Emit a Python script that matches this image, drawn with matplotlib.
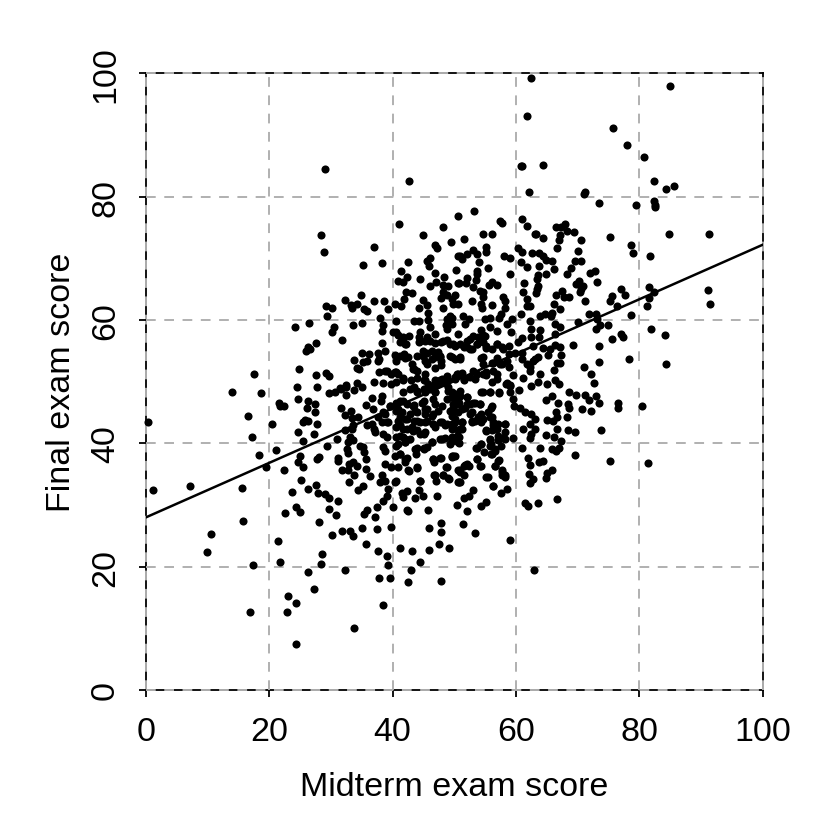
import matplotlib
matplotlib.use("Agg")
import matplotlib.pyplot as plt

# scores, (midterm, final)
points = [
    (29.1,84.5),(42.6,82.6),(41.1,75.5),(28.4,73.8),(28.8,71.1),(36.9,71.8),(35.2,68.9),(38.3,69.2),
    (48.1,75),(44.9,73.7),(50.6,76.9),(46.9,72.2),(47.2,71.6),(49.4,72.6),(50.6,70.3),(46.1,70),(45.5,69.5),(45.9,68.7),
    (42.5,69.4),(41.4,68),(42.3,66.9),(40.9,66.3),(41.7,66.1),(44.4,66.7),(46.8,67.6),(50.3,68.1),(48.4,67),(47.1,66.2),(46.1,65.5),
    (50.6,66),(48.2,65.6),(49,65.5),(42.1,64.6),(43.2,64.4),(34.8,64.1),(32.2,63.2),(37,63),(38.6,63),(44.9,63.2),(41.8,63.4),
    (48.2,64.5),(47.9,63.5),(48.8,64.1),(49.6,63.4),(50.1,64),(49.8,62.6),(50.6,62.6),(33.2,62.4),(34.2,62.6),(33.4,61.9),
    (29.2,62.3),(30.1,62),(35.4,61.8),(35.9,61.5),(39.2,61.8),(40.4,62.6),(41.3,62.3),(45.6,62.5),(44.3,62),(48.1,62),(45.8,61.1),
    (29.4,60.6),(37.9,60.3),(40.6,59.9),(43.5,59.9),(44.2,59.8),(45.8,60),(49.3,60.7),(49.7,60.4),(48.8,60.2),(49.7,59.4),(48.6,59.2),(48.8,58.5),
    (24.2,58.9),(26.5,59.5),(33.5,59.2),(35,59.5),(30.5,58.9),(30.1,58),(38.5,59.2),(38.3,58.2),(46,58.9),(31.8,56.8),(27.6,56.3),
    (26.2,55.6),(26.6,55.3),(25.9,54.9),(40.1,58),(40.9,57.6),(41.7,57.2),(42.7,57.4),(41.2,56.4),(42.2,56.1),(44.4,58.1),(44.2,57.2),
    (45.5,57.2),(46.8,57.7),(44.2,56.4),(45.2,56.6),(46.9,56.3),(47.9,56.4),(48.8,56.8),(49.3,56.1),(50.6,57.7),(50.1,55.8),(50.9,56.1),
    (38.2,56.2),(38.8,55),(37.7,54.7),(37.8,53.7),(37.7,53.4),(35.1,54.7),(36.1,54.5),(33.8,53.5),(35.2,53.2),(35.8,53.4),
    (40.4,54.3),(41.2,54.2),(41.9,54.5),(42,53.9),(40.6,53.4),(43.9,54.1),(44.9,55),(45.5,54.6),(44.9,54.2),(45.2,53.4),(46.3,54.9),
    (46.9,54),(47.4,54.8),(47.9,53.4),(47.7,54.2),(49.3,54.2),(50.1,53.7),(50.9,54),(43.1,52.9),(47.9,52.7),(43.4,52),(44,51.8),(46.9,52.2),
    (34.2,52.2),(34.5,52),(17.5,51.3),(24.8,52.1),(27.6,51.1),(29.2,51.4),(29.6,50.9),(37.8,51.5),(38.8,51.8),(39.7,51.2),(40.5,51.6),(40.9,51.2),
    (45.2,51.2),(41.7,50.6),(43,50.3),(43.9,50.6),(48.8,50.9),(50.1,50.5),(50.6,51.2),(34.2,49.8),(35.1,49.2),(37,49.9),(38.5,49.8),(39.7,49.6),(40.6,49.9),
    (45,50.2),(45.8,49.6),(47.7,50.3),(48.5,49.8),(46.9,49.6),(24.5,49.2),(27.7,49.1),(32.5,49.4),(31.5,49),
    (62.5,99.3),(84.9,98),(61.8,93.1),(75.7,91.1),(78,88.3),(80.7,86.4),(60.8,85),(61,85),(64.4,85.2),(82.4,82.5),(84.4,81.2),(85.6,81.7),
    (62.1,80.7),(71.2,80.7),(71.1,80.4),(73.4,78.9),(79.5,78.6),(82.4,79.3),(82.5,78.7),(82.5,78.3),(53.2,77.6),(57.4,76.1),(57.7,75.8),
    (60.9,76.3),(61.8,75.2),(63.1,74),(63.2,73.9),(64.4,73.3),(66.5,75),(67.3,75),(67.9,75.6),(68.2,74.5),(69.4,74.2),(67.2,73.8),(66.9,72.9),
    (70.5,72.9),(66.7,71.7),(70.1,71.2),(54.7,73.9),(56.1,73.9),(51.6,73.2),(75.3,73.4),(84.8,73.9),(91.3,74),(78.6,72.2),(78.9,70.9),(81.7,70.3),
    (55.2,71.8),(55.2,71.1),(53,71.3),(52.1,70.7),(50.9,70.4),(51.2,69.9),(53.6,70.7),(60.4,71.7),(60.9,71),(62.6,70.9),(63.8,70.8),(64.3,70.3),(64.9,69.7),(65.9,69.5),
    (58.1,70.4),(59,70.1),(69.6,69.6),(70.6,69.6),(54,69.4),(60.8,69.4),(61.7,68.6),(63.7,68.8),(66.1,68.3),(55.5,68.5),(53.7,68),(53.6,67.4),(59,67.4),
    (68.9,68.4),(68.2,67.5),(72.8,68),(72,67.6),(64.8,67.4),(63.5,67.3),(63.4,66.6),(52,66.8),(51.9,66),(50.8,66),(53.5,66.5),(61.3,66),(56.1,66.2),(55.6,65.6),(56.9,65.7),
    (73.2,66.1),(70.2,66.4),(69.8,65.8),(70.9,65.5),(70.5,65),(70.4,64.5),(53,65.3),(54.2,64.7),(54.7,64.5),(63.6,65.5),(63.4,65),(63.2,64.4),(61.1,64.6),
    (81.6,65.3),(82.4,64.6),(77,65),(77.7,64.1),(91.2,64.9),(91.4,62.6),(67.4,64.7),(66.5,64),(67.7,63.8),(68.6,63.7),(75.6,63.9),(75.2,63.1),(81.6,63.6),(81.2,62.3),
    (71.2,63.1),(52.9,63.1),(54.7,63.7),(54.4,62.6),(54.5,62),(56.1,62.4),(57.9,63.8),(58.2,63.1),(58.2,61.9),(61.8,63.4),(61.7,62.3),(62.3,62.2),(66.2,62.6),(67.1,61.7),
    (76.3,62.2),(57.5,61),(57.3,60.4),(51.4,60.7),(52.3,60.1),(60.8,60.9),(63.9,60.7),(64.7,61),(65.7,60.7),(65.9,61.2),(71.8,60.9),(72.9,61),(73.2,60.2),(78.7,60.8),
    (55,60.1),(55.8,60.3),(59.3,60.2),(62.2,59.8),(70.1,59.6),(51.7,59.4),(58.5,59.3),(66.4,59.3),(67.1,58.8),(73.6,59.2),(73,58.5),(74.9,59.2),(55.8,58.8),(54.3,58.4),(55,57.4),
    (56.9,58.2),(59.2,58.1),(62.5,58.6),(63.9,58.4),(62.4,57.3),(63.8,57.2),(81.9,58.5),(84.1,57.5),(77.1,57.7),(77.3,57.2),(75.6,56.9),(66.3,57.7),(53.1,57.4),(52.5,56.9),(53.9,57.2),
    (60.9,57),(60.4,56.4),(69.2,55.9),(73.5,55.7),(52,55.6),(52.8,55.3),(53.6,56.1),(54.7,56.4),(55.2,55.4),(56.1,55.3),(56.9,56.1),(57.7,55.6),(58.8,55.8),(59.8,54.7),(60.9,54.7),
    (62.8,55.8),(64.4,55.4),(65.5,55.3),(66.3,55.9),(67.1,55.6),(65.2,54.3),(67.3,54.3),(63.6,54),(62.8,53.4),(54.3,53.9),(56.9,53.9),(58.8,54.5),(78.4,53.6),(84.3,52.9),(73.5,53.2),
    (71,52.3),(72.1,51.3),(72.7,49.8),(66.6,53.1),(67.1,53),(66.1,51.9),(60.9,53.7),(61.7,52.9),(62.3,52.3),(63.1,53.7),(62.3,51.8),(63.9,51.2),(54.7,52.9),(56.1,53.1),(56.9,53.4),
    (57.7,52.9),(58.8,52.3),(59.5,51),(61.2,50.6),(56.9,51.2),(56.9,50.5),(53.1,51.8),(54.7,51.2),(51.2,51.4),(50.1,50.7),(51.5,50.2),(53.4,50.4),(55.2,51),(56.1,49.9),(58.5,49.8),(59,49.3),
    (62.4,49.3),(63.6,49.9),(65,49.7),(66.3,50.3),(66.9,49.6),
    (13.9,48.4),(18.6,48.2),(21.5,46.5),(22.4,46.1),(21.7,46),(16.6,44.4),(0.3,43.5),(20.4,43.1),(17.2,41),(21.1,38.9),(18.3,38.1),(19.5,36.1),(22.3,35.6),(1.1,32.5),(7.1,33),(15.6,32.8),
    (15.7,27.4),(10.6,25.3),(9.9,22.4),(21.4,24.2),(17.4,20.3),(21.8,20.7),(16.9,12.7),(23,15.2),(24.3,14.1),(22.8,12.7),(27.2,16.3),(26.2,19.2),(24.4,7.4),(33.7,10.1),(38.4,13.8),
    (32.2,19.5),(37.8,18.1),(39.5,18.2),(42.5,17.5),(47.8,17.7),(42.9,19.5),(39.3,20.3),(39,21.8),(44.5,20.8),(37.6,22.5),(41.2,23.1),(43.1,22.6),(45.9,22.7),(47.5,23.6),(49.1,23),(35.7,23.7),
    (28.4,20.5),(28.6,22),(30.2,25.2),(31.8,25.8),(33,25.8),(33.5,25),(35,26.2),(37.4,26.1),(39.8,26.5),(45.9,26.3),(47.9,27.1),(47.9,25.6),(28.1,27.3),(22.6,28.7),(24.4,29.6),(25,28.8),
    (29.6,29.4),(30.8,28.4),(31.2,30.6),(23.7,32.1),(25.2,34),(26.3,32.6),(27.5,33.3),(27.9,31.9),(29,31.8),(29.6,31.1),(35.4,28.6),(35.9,29.2),(37.4,29.6),(37.1,28.1),(40.1,29.6),
    (42.3,29.2),(42.5,29),(45.8,29.2),(50.5,30),(38.4,30.7),(39,31.5),(39.3,32.6),(41.5,32),(42.4,32.2),(41.7,31.3),(43.6,31.2),(44.2,32.5),(44.9,31.4),(47.2,31.5),(34.4,32.4),(35.2,33),
    (32.9,33.7),(37.9,33.7),(38.2,34.8),(38.8,33.9),(40.4,33.7),(40.6,33.9),(44.5,33.9),(46.9,34.9),(47.1,33.9),(48.2,34.8),(49.2,34.2),(50.6,33.8),(31.8,35.7),(32.8,35.6),(33.7,34.9),
    (34.2,36.3),(35.7,35.8),(36.4,34.7),(42.7,35.5),(43.9,36),(39.8,36.1),(40.8,36.1),(38.7,36.7),(48.8,36.2),(50.6,35.6),(32.9,36.7),(33.5,36.9),(31.2,37.6),(31.2,37.1),
    (24.9,37.9),(24.6,36.9),(25.4,36.1),(28,37.8),(27.8,37.4),(46.5,37.5),(46.7,37),(47.8,37.7),(49.7,37.8),(50.1,37.9),(42,36.9),(42.3,37.7),(41.2,38.3),(40.4,38),(43.8,38.3),
    (35.6,37.5),(35.4,38.6),(34.7,39.5),(35.2,39.4),(38.5,39.4),(38.8,38.8),(32.7,38.5),(32.6,39.1),(29.4,39.6),(25.5,40.3),(31,40.7),(24.6,41.8),(27.3,41.5),(25.5,43.4),(25.8,43.8),(26.3,43.7),(27.7,43.2),
    (24.6,47.2),(26.2,46.9),(26.1,45.8),(27.4,46.3),(27.4,45),(29.7,48.2),(30.6,48.4),(31.6,48.8),(32.5,49.2),(32.5,47.8),(33.8,48.6),(31.6,45.7),(32.3,44.6),(33.2,45.2),(33.4,44.1),(34.3,44.2),
    (33.6,42.9),(33.4,42.3),(32.3,42.1),(33.1,41),(33.6,40.6),(32.8,40.2),(35.6,46.2),(36.6,47.3),(36.8,45.6),(38.2,47.7),(38.1,46.8),(39.6,46.1),(35.8,42.9),(36.6,43.1),(36.9,42.3),(37.1,41.8),
    (37.7,44.2),(38.2,43.4),(39.3,43.4),(38.8,44.8),(38.5,41.5),(39,41.1),
    (40.6,46.6),(41.7,46.9),(43.4,46.2),(44.7,46.6),(45.5,45.6),(46.9,46.4),(48.8,47.2),(49.8,46.4),(50.6,47.2),
    (40.6,45.3),(41.5,45),(42.8,44.8),(43.9,45),(45.2,44.8),(46.3,44.5),(47.4,45.3),(49.6,45.3),(50.6,45),
    (40.9,43.7),(42,44),(43.4,43.7),(44.4,43.4),(45.5,43.7),(46.6,43.1),(47.7,43.4),(48.8,43.1),(50.1,43.4),
    (40.6,42.6),(41.7,42.3),(43.1,42.6),(43.9,42.1),(45.2,41.8),(46.9,42.6),(48.5,42.9),(49.6,42.3),(50.6,42.1),
    (40.6,41),(41.7,41.1),(42.8,40.7),(44.4,41.5),(46.3,40.2),(47.7,40.7),(48.5,40.8),(49.3,39.9),(50.6,41),
    (40.9,39.9),(42,40.2),(45,39.1),(45.5,39.4),(43.6,39.1),
    (41.6,50.2),(43.9,48.5),(43.4,49.1),(45.2,48.3),(46.3,49.1),(46.9,48.3),(47.4,49.6),(49,49.1),(50.1,48),(50.9,48.5),(41.6,48.4),
    (49.6,48.3),(50.1,47.2),(50.7,46.6),(49.8,45.8),(50.9,47.7),(52,47.5),(51.7,45.8),(52.5,46.4),(53.4,46.6),(54.2,46.4),(52.8,45),(54.4,44.8),(53.9,44.2),(54.7,43.9),(52.8,43.4),(53.4,43.7),
    (54.6,48.3),(55.7,48.3),(57.3,48.2),(59,48.3),(59.5,47.2),(60.5,48.6),(58.4,49.6),(59,49.5),(56.1,46),(55.5,45.1),(56.1,44.2),(59.7,46),(60.6,45.8),(64.9,47.1),(65.8,47.7),(66.8,46.5),
    (68.6,48.3),(69.8,47.9),(71.2,47.9),(71.9,47.1),(73,47.6),(73.4,46.5),(68.5,46.4),(68.6,45.8),(70.7,45.5),(72.1,45.2),(76.5,46.6),(76.6,45.7),(80.5,46.1),(73.7,42.1),
    (61.5,45),(62.5,44.7),(63.1,43.9),(62.3,43.1),(66.5,45),(66.7,44.3),(68.3,44.2),(65.1,43.8),(66,43.7),(61.2,42.3),(63.1,42.3),(62.5,41.5),(62.2,40.9),(66.7,42.4),(68.5,42.2),(69.5,41.8),
    (64.9,41.3),(66.1,41),(67.3,40.3),(56.3,43.4),(57.1,43.1),(58.2,43.1),(56.1,42.1),(56.6,42.3),(58.2,41.8),(55.1,42.1),(55.8,40.6),(57.1,40.6),(57.9,40.8),(59.5,40.9),
    (51.2,43.4),(51.2,42.3),(50.1,43.9),(49.8,42.9),(50.7,41),(49.6,41),(54.4,39.9),(53.5,39.2),(55.7,39.6),(54.8,38.6),(56.1,38.3),(56.6,38.8),(57.5,39.5),
    (61,39.3),(63.9,39.2),(65.8,39),(66.5,38.8),(67,39.2),(50.7,40),(69.5,38.1),(75.2,37.1),(81.4,36.8),(57.3,37.3),(56.6,36.4),(62,37.6),(62.3,36.5),(63.8,36.9),(64.4,37.1),
    (53.7,37.5),(54.3,36.3),(49.8,37.9),(51.7,36.5),(52.3,36.4),(50.9,35.7),(51.5,34.9),(55.4,34.5),(57.7,35.3),(58.2,34.6),(57.8,34.8),(62.1,35),(62.8,34.2),(62.3,33.6),
    (65.8,35.6),(65,35.2),(64.9,34.3),(50.8,33.8),(56.3,33.1),(53.1,32.5),(58.5,32.6),(57.6,32),(51.5,31.1),(52.3,31.4),(66.6,31),(63.6,30.3),(61.5,30.3),(62,29.9),
    (55.1,30.5),(54.4,29.9),(52,29),(51.4,26.9),(53.4,25.5),(59.1,24.4),(62.9,19.5),
]

# second pass over the dense middle of the cloud
points_centre = [
    (40.6,58),(41.7,56.9),(42,56.1),(44.4,56.65),(46,56.65),(48.2,56.65),(49.8,56.1),(51.5,55.6),(52.5,55.3),(53.6,56.1),(55.2,55.8),(56.9,56.1),(57.9,55.3),(52,56.65),(54.7,57.5),
    (42.5,54),(45,54.5),(46.3,53.7),(47.7,54),(49.6,54),(50.9,53.7),(54.7,54),(56.3,53.1),(57.4,52.9),(58.5,53.4),(45.5,52.9),
    (39,51.8),(40.4,51.5),(41.7,50.5),(43.3,52),(45.2,50.2),(46.9,50.2),(48,50.4),(49,50.2),(50.4,51.2),(51.5,50.4),(52.5,50.7),(53.6,51.2),(55.2,51.5),(56.3,51.8),
    (42.8,48.8),(43.9,48.3),(45,48.8),(46,48.8),(46.9,48.3),(49,48.5),(49.6,47.5),(50.6,47.5),(52,47.5),(54.4,48.3),(55.8,48.3),(57.3,48.3),
    (41.2,46.9),(42.3,46.4),(43.3,46.1),(45,46.9),(46.6,47.2),(48,46.1),(50.4,46.4),(52,46.4),(53.1,46.6),(54.2,46.4),(56,45.8),
    (39.6,46),(40.9,45.6),(41.2,44.2),(42.3,44),(43.6,45.3),(45.2,45.6),(46.6,44.8),(49.3,45.3),(49.6,44.5),(51.2,45.6),(52.5,44.8),(54.2,44.4),(55.8,44.2),
    (38.5,45),(39,43.4),(41.2,42.9),(42.3,42.3),(43.9,43.7),(45.2,43.4),(46.6,43.1),(48,43.4),(49.6,43.1),(51.2,43.4),(52.8,43.7),(54.4,43.4),(56.3,42.9),
    (43.3,42),(45,41.5),(41.2,41.2),(42,40.7),(50.9,42.3),(50.4,41.2),(48,40.7),(49.6,40.4),(55.2,42),(56.9,42.3),(58.2,43.1),
    (40.6,39.6),(42,40.2),(41.2,38.3),(42,37.5),(43.9,39.2),(45,39.3),(46.3,40.2),(50.6,40.2),(53.6,39.3),(54.4,39.9),(56,39.9),(56.6,39.1),(56,38.3),(58.2,40.7),(57.1,41.2),(55.8,40.7),
    (46.6,37.4),(47.7,37.7),(49.7,37.9),(53.7,37.5),(52.1,36.6),(51.5,36.3),(50.9,35.3),(57.1,37.2),(56.6,36.4),(57.7,35.6),(58.2,34.8),(48.7,36.2),(54.2,36.4),(46.7,34.9),(48.2,34.8),(49,34.3),(50.9,33.8),(55.2,34.6),(56.3,33.1),(44.4,33.9),(42.5,35.6),(43.9,36.1),
]

midterm = [p[0] for p in points + points_centre]
final = [p[1] for p in points + points_centre]

# regression line ends
line_x = [0, 100]
line_y = [28, 72.2]

ticks = [0, 20, 40, 60, 80, 100]

plt.rcParams["font.family"] = ["Liberation Sans", "DejaVu Sans"]

fig = plt.figure(figsize=(8.26, 8.29), dpi=100)
ax = fig.add_axes([146 / 826, (829 - 691) / 829, (762.7 - 146) / 826, (691 - 74.3) / 829])

ax.set_xlim(0, 100)
ax.set_ylim(0, 100)
ax.set_xticks(ticks)
ax.set_yticks(ticks)

# grid sits over the black frame, under the dots
for s in ax.spines.values():
    s.set_linewidth(1.3)
    s.set_zorder(2)
ax.set_axisbelow(False)
ax.grid(True, color="#b0b0b0", linewidth=1.4, linestyle=(0, (5.0, 4.4)))
for g in ax.get_xgridlines() + ax.get_ygridlines():
    g.set_clip_on(False)
    g.set_zorder(2.5)

ax.scatter(midterm, final, s=34, color="black", linewidths=0, zorder=4, clip_on=False)
ax.plot(line_x, line_y, color="black", linewidth=1.8, zorder=4)

ax.tick_params(axis="x", length=5, width=1.3, labelsize=24.5, pad=14)
ax.tick_params(axis="y", length=5, width=1.3, labelsize=24.5, pad=13)
plt.setp(ax.get_yticklabels(), rotation=90, va="center")
ax.set_xlabel("Midterm exam score", fontsize=24.5, labelpad=17)
ax.set_ylabel("Final exam score", fontsize=24.5, labelpad=9)

fig.savefig("out.png", dpi=100)
